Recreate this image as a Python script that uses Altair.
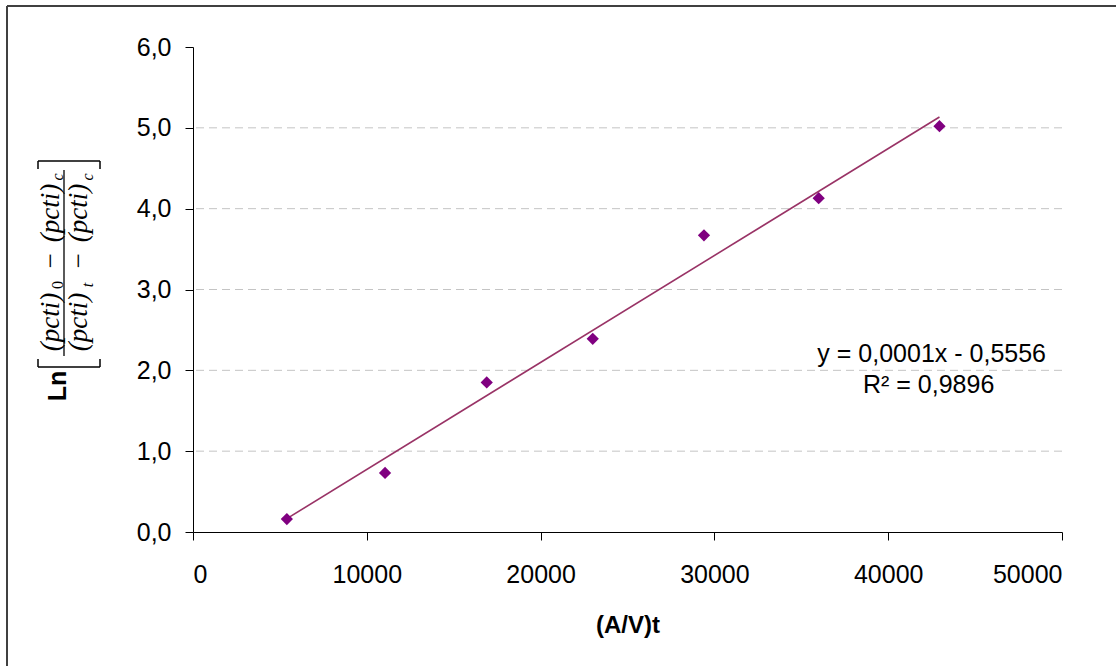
import altair as alt
import pandas as pd

# Measured points: (A/V)t against Ln[((pcti)0-(pcti)c)/((pcti)t-(pcti)c)]
av_t = [5400, 11050, 16900, 23000, 29400, 36000, 42950]
ln_ratio = [0.16, 0.73, 1.85, 2.39, 3.67, 4.13, 5.02]

x_ticks = [0, 10000, 20000, 30000, 40000, 50000]
y_ticks = [0, 1, 2, 3, 4, 5, 6]
grid_levels = [1, 2, 3, 4, 5]

equation_text = "y = 0,0001x - 0,5556"
r2_text = "R² = 0,9896"

# Plot-area placement inside the 1116x666 page
LEFT, TOP, W, H = 193, 47, 869, 485
PAGE_W, PAGE_H = 1116, 666

SANS = "Liberation Sans"
SERIF = "Liberation Serif"

df = pd.DataFrame({"x": av_t, "y": ln_ratio})
one = pd.DataFrame({"_": [0]})

X = alt.X(
    "x:Q",
    scale=alt.Scale(domain=[0, 50000], nice=False, zero=True),
    axis=alt.Axis(
        values=x_ticks, format="d", title="(A/V)t", grid=False,
        labelFont=SANS, labelFontSize=25, labelColor="black",
        labelPadding=22, tickSize=8, tickColor="black", domainColor="black",
        titleFont=SANS, titleFontSize=24, titleFontWeight="bold", titleColor="black",
        titleY=100, titleBaseline="alphabetic",
    ),
)
Y = alt.Y(
    "y:Q",
    scale=alt.Scale(domain=[0, 6], nice=False),
    axis=alt.Axis(
        values=y_ticks, grid=False, title=None,
        labelExpr="replace(format(datum.value, '.1f'), '.', ',')",
        labelFont=SANS, labelFontSize=25, labelColor="black",
        labelPadding=14, tickSize=8, tickColor="black", domainColor="black",
    ),
)

grid = alt.Chart(pd.DataFrame({"y": grid_levels})).mark_rule(
    color="#c4c4c4", strokeWidth=1, strokeDash=[8, 5]
).encode(y=Y)

trend = alt.Chart(df).transform_regression("x", "y").mark_line(
    color="#993366", strokeWidth=1.6
).encode(x=X, y=Y)

points = alt.Chart(df).mark_point(
    shape="diamond", filled=True, size=150, color="#800080", opacity=1
).encode(x=X, y=Y)


def txt(text, px, py, size, font=SANS, style="normal", weight="normal",
        angle=0, align="center", baseline="middle"):
    """Free text placed at page pixel (px, py)."""
    return alt.Chart(one).mark_text(
        text=text, font=font, fontSize=size, fontStyle=style,
        fontWeight=weight, angle=angle, align=align, baseline=baseline,
        color="black",
    ).encode(x=alt.value(px - LEFT), y=alt.value(py - TOP))


def hline(x1, x2, py, color="black", width=1.5):
    return alt.Chart(one).mark_rule(color=color, strokeWidth=width).encode(
        x=alt.value(x1 - LEFT), x2=alt.value(x2 - LEFT), y=alt.value(py - TOP)
    )


def vline(px, y1, y2, color="black", width=1.5):
    return alt.Chart(one).mark_rule(color=color, strokeWidth=width).encode(
        x=alt.value(px - LEFT), y=alt.value(y1 - TOP), y2=alt.value(y2 - TOP)
    )


# Trendline equation and R²
eq = txt(equation_text, 1046, 362, 25, align="right", baseline="alphabetic")
r2 = txt(r2_text, 863, 393, 25, align="left", baseline="alphabetic")

# Rotated y-axis title: Ln [ ((pcti)0 - (pcti)c) / ((pcti)t - (pcti)c) ]
FS, SUB = 27, 16
ytitle = [
    txt("Ln", 58, 386, 25, weight="bold", angle=270),
    # numerator
    txt("(pcti)", 51, 322, FS, font=SERIF, style="italic", angle=270),
    txt("0", 58, 285, SUB, font=SERIF, angle=270),
    txt("−", 51, 261, FS, font=SERIF, angle=270),
    txt("(pcti)", 51, 213, FS, font=SERIF, style="italic", angle=270),
    txt("c", 58, 177, SUB, font=SERIF, style="italic", angle=270),
    # denominator
    txt("(pcti)", 79, 322, FS, font=SERIF, style="italic", angle=270),
    txt("t", 88, 285, SUB, font=SERIF, style="italic", angle=270),
    txt("−", 79, 261, FS, font=SERIF, angle=270),
    txt("(pcti)", 79, 213, FS, font=SERIF, style="italic", angle=270),
    txt("c", 88, 177, SUB, font=SERIF, style="italic", angle=270),
    # fraction bar
    vline(64, 170, 356, width=1.3),
    # brackets
    hline(38, 100, 161), vline(38, 161, 169), vline(100, 161, 169),
    hline(38, 100, 367), vline(38, 359, 367), vline(100, 359, 367),
]

# Chart frame (left and top edges)
frame = [
    vline(7, 6, PAGE_H, color="#404040", width=2),
    hline(7, PAGE_W, 6, color="#404040", width=2),
]

chart = alt.layer(
    grid, trend, points, eq, r2, *ytitle, *frame
).properties(
    width=W, height=H,
    autosize=alt.AutoSizeParams(type="none"),
    padding={"left": LEFT, "top": TOP, "right": PAGE_W - LEFT - W,
             "bottom": PAGE_H - TOP - H},
    background="white",
).configure_view(stroke=None)

chart.save("out.html", embed_options={"renderer": "svg", "actions": False})
